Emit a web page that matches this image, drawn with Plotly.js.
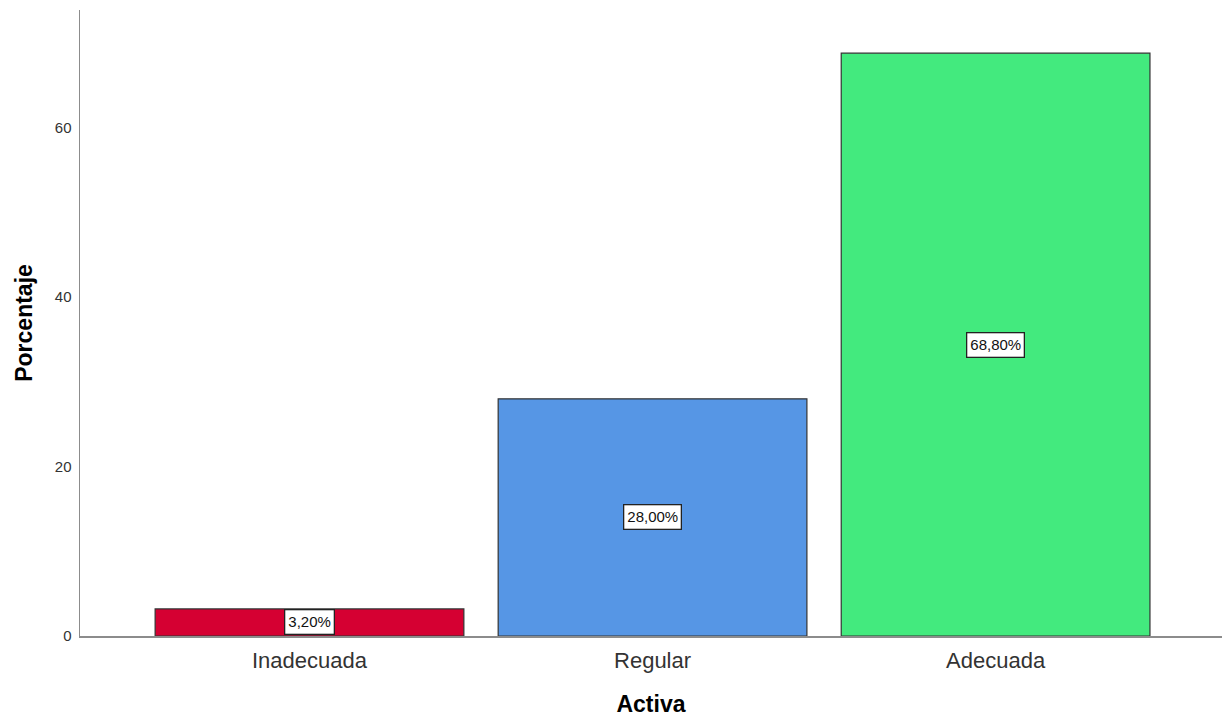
<!DOCTYPE html>
<html>
<head>
<meta charset="utf-8">
<script src="https://cdn.plot.ly/plotly-3.0.1.min.js"></script>
<style>html,body{margin:0;padding:0;background:#fff;}#chart{width:1222px;height:719px;}</style>
</head>
<body>
<div id="chart"></div>
<script>
const categories = ["Inadecuada", "Regular", "Adecuada"];
const percentages = [3.2, 28.0, 68.8];
const labels = ["3,20%", "28,00%", "68,80%"];
const colors = ["#D50032", "#5696E5", "#43EA7E"];
const yTicks = [0, 20, 40, 60];

const FONT = "Liberation Sans, Arial, sans-serif";

const trace = {
  type: "bar",
  x: categories,
  y: percentages,
  width: 0.9,
  marker: {color: colors, line: {color: "#333333", width: 1.2}},
  hoverinfo: "none"
};

const annotations = categories.map((c, i) => ({
  x: c, y: percentages[i] / 2, xref: "x", yref: "y",
  text: labels[i], showarrow: false,
  font: {family: FONT, size: 15, color: "#111"},
  bgcolor: "#ffffff", bordercolor: "#222222", borderwidth: 1.3, borderpad: 3
}));

const layout = {
  width: 1222, height: 719,
  margin: {l: 80, r: 0, t: 10, b: 83},
  paper_bgcolor: "#fff", plot_bgcolor: "#fff",
  showlegend: false,
  bargap: 0.1,
  xaxis: {
    type: "category",
    range: [-0.669, 2.66],
    showline: true, linecolor: "#8c8c8c", linewidth: 1.5,
    showgrid: false, zeroline: false, ticks: "",
    ticklabelstandoff: 4,
    tickfont: {family: FONT, size: 22, color: "#333"},
    title: {text: "<b>Activa</b>", font: {family: FONT, size: 23, color: "#000"}, standoff: 24}
  },
  yaxis: {
    range: [0, 73.9],
    tickvals: yTicks, ticktext: yTicks.map(String),
    showline: true, linecolor: "#8c8c8c", linewidth: 1.5,
    showgrid: false, zeroline: false, ticks: "",
    ticklabelstandoff: 4,
    tickfont: {family: FONT, size: 15, color: "#333"},
    title: {text: "<b>Porcentaje</b>", font: {family: FONT, size: 23, color: "#000"}, standoff: 16}
  },
  annotations: annotations
};

Plotly.newPlot("chart", [trace], layout, {displayModeBar: false, staticPlot: true});
</script>
</body>
</html>
